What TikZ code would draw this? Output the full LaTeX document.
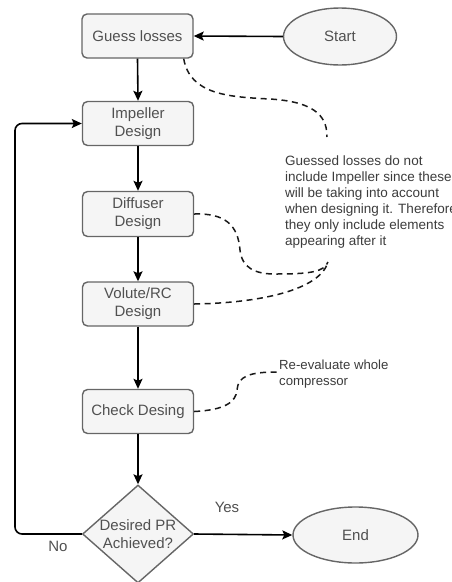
\documentclass[tikz,border=0pt]{standalone}
\usepackage{fontspec}
\setmainfont{Liberation Sans}
\usetikzlibrary{shapes.geometric,arrows.meta}
\definecolor{boxfill}{HTML}{F5F5F5}
\definecolor{boxline}{HTML}{666666}
\definecolor{boxtext}{HTML}{505050}
\definecolor{notetext}{HTML}{3C3C3C}
\begin{document}
\begin{tikzpicture}[x=1pt,y=-1pt,
  boxfont/.style={font=\fontsize{15}{18}\selectfont},
  proc/.style={draw=boxline, fill=boxfill, line width=1.4pt, rounded corners=5pt,
    minimum width=111pt, minimum height=44pt, inner sep=0pt, align=center,
    text=boxtext, boxfont},
  term/.style={ellipse, draw=boxline, fill=boxfill, line width=1.4pt, inner sep=0pt,
    text=boxtext, boxfont},
  arr/.style={draw=black, line width=1.6pt, -{Stealth[length=10pt,width=9pt,inset=2pt]}},
  dsh/.style={draw=black!90, line width=1.5pt, dash pattern=on 6pt off 4.5pt},
  note/.style={inner sep=0pt, align=left, text=notetext}
]
\useasboundingbox (0,0) rectangle (451,582);

\node[proc] (guess) at (137.5,36) {Guess losses};
\node[term, minimum width=113pt, minimum height=57pt] (start) at (340,36.5) {Start};
\node[proc] (imp) at (138,123.5) {Impeller\\Design};
\node[proc, minimum height=45pt] (diff) at (138,214) {Diffuser\\Design};
\node[proc] (vol) at (138,304) {Volute/RC\\Design};
\node[proc] (check) at (138,411.5) {Check Desing};
\node[diamond, draw=boxline, fill=boxfill, line width=1.4pt, minimum width=111pt,
  minimum height=98pt, inner sep=0pt,
  label={[align=center, text=boxtext, boxfont]center:Desired PR\\Achieved?}] (dec) at (138,534) {};
\node[term, minimum width=125pt, minimum height=56pt] (endn) at (355.5,535) {End};

\node[note, anchor=north west, font=\fontsize{13.5}{16}\selectfont] (note1) at (285,156)
  {Guessed losses do not\\include Impeller since these\\will be taking into account\\when designing it. Therefore\\they only include elements\\appearing after it};
\node[note, anchor=north west, font=\fontsize{13.2}{15.5}\selectfont] (note2) at (279,360)
  {Re-evaluate whole\\compressor};

\node[text=boxtext, boxfont] (yes) at (227,507) {Yes};
\node[text=boxtext, boxfont] (no) at (58,546) {No};

% connectors
\draw[arr] (start.west) -- (guess.east);
\draw[arr] (guess.south) -- (imp.north);
\draw[arr] (imp.south) -- (diff.north);
\draw[arr] (diff.south) -- (vol.north);
\draw[arr] (vol.south) -- (check.north);
\draw[arr] (check.south) -- (dec.north);
\draw[arr] (dec.east) -- (endn.west);
\draw[arr, rounded corners=7pt] (dec.west) -- (15,534) -- (15,123.5) -- (imp.west);

% dashed annotation links
\coordinate (c1) at (327,137);
\coordinate (c2) at (328,262);
\coordinate (c3) at (277,372);
\draw[dsh] ([xshift=-10pt]guess.south east) .. controls (190,95) and (230,97) .. (270,99)
  .. controls (320,102) and (327,120) .. (c1);
\draw[dsh] (diff.east) .. controls (225,213) and (238,225) .. (240,250)
  .. controls (242,268) and (255,274) .. (275,274)
  .. controls (310,274) and (324,272) .. (c2);
\draw[dsh] (vol.east) .. controls (260,303) and (320,290) .. (c2);
\draw[dsh] (check.east) .. controls (225,410) and (236,402) .. (237,390)
  .. controls (238,376) and (250,372) .. (c3);
\end{tikzpicture}
\end{document}
